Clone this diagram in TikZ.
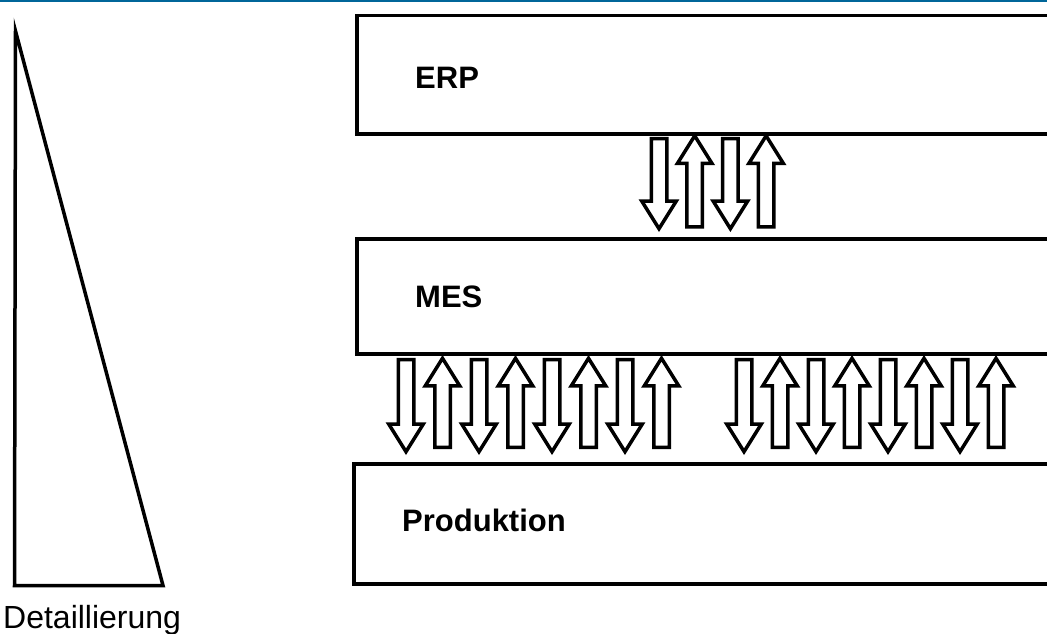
\documentclass[tikz,border=0pt]{standalone}
\usepackage{fontspec}
\setmainfont{Liberation Sans}
\usetikzlibrary{positioning,shapes.arrows}
\definecolor{TopBlue}{HTML}{006699}

\begin{document}
\begin{tikzpicture}[x=1pt,y=-1pt,
          layer/.style={draw,line width=3.5pt,minimum width=760pt,
                        inner sep=0pt,anchor=north west},
          layertext/.style={font=\fontsize{31}{36}\selectfont\bfseries,
                            inner sep=0pt},
          flow/.style={draw,line width=3.5pt,single arrow,inner xsep=0pt,
                       inner ysep=6pt,single arrow head extend=9.5pt,
                       single arrow tip angle=64,minimum width=31pt},
          dn/.style={flow,rotate=-90,minimum height=#1},
          up/.style={flow,rotate=90,minimum height=#1}]
        \useasboundingbox (0,0) rectangle (1047,634);
        \clip (0,0) rectangle (1047,634);
        \fill[TopBlue] (0,0) rectangle (1047,2.5);
        % Detaillierung
        \coordinate (apex) at (15.5,31);
        \coordinate (bl) at (14.5,585.5);
        \coordinate (br) at (163,585.5);
        \draw[line width=3.5pt,line join=miter] (apex) -- (bl) -- (br) -- cycle;
        \node[anchor=base west,inner sep=0pt,font=\fontsize{32}{38}\selectfont]
            (detail) at (3,628) {Detaillierung};
        % Ebenen
        \node[layer,minimum height=118pt] (erp) at (355,14) {};
        \node[layer,minimum height=115pt] (mes) at (355,237) {};
        \node[layer,minimum height=120pt] (prod) at (352,462) {};
        \node[layertext,right=60pt of erp.west,yshift=-3pt] (erptext) {ERP};
        \node[layertext,right=60pt of mes.west,yshift=-1pt] (mestext) {MES};
        \node[layertext,right=50pt of prod.west,yshift=3.5pt] (prodtext) {Produktion};
        % Datenfluss ERP - MES
        \foreach \k in {0,1} {
          \node[dn=90pt] (em-dn\k) at ({659+71.4*\k},177.5) {};
          \node[up=91pt] (em-up\k) at ({694.7+71.4*\k},187.5) {};
        }
        % Datenfluss MES - Produktion
        \foreach \k in {0,...,3} {
          \node[dn=92pt] (mp-dn\k) at ({406+73*\k},399.5) {};
          \node[up=89pt] (mp-up\k) at ({442.5+73*\k},409) {};
          \node[dn=92pt] (mp-dnr\k) at ({744+72*\k},399.5) {};
          \node[up=89pt] (mp-upr\k) at ({780+72*\k},409) {};
        }
      \end{tikzpicture}
\end{document}
